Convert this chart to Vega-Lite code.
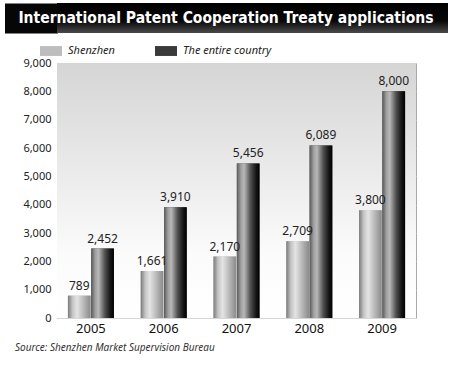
{
  "$schema": "https://vega.github.io/schema/vega-lite/v6.json",
  "background": "white",
  "padding": {"left": 3, "top": 3, "right": 3, "bottom": 3},
  "spacing": 6,
  "resolve": {"legend": {"color": "independent"}},
  "config": {"font": "Noto Sans", "view": {"stroke": null}},
  "vconcat": [
    {
      "width": 391,
      "height": 30,
      "data": {"values": [{"t": "International Patent Cooperation Treaty applications"}]},
      "layer": [
        {
          "mark": {"type": "rect", "fill": {"gradient": "linear", "x1": 0, "y1": 0, "x2": 0, "y2": 1, "stops": [{"offset": 0, "color": "#000000"}, {"offset": 0.6, "color": "#080808"}, {"offset": 1, "color": "#4a4a4a"}]}},
          "encoding": {}
        },
        {
          "mark": {"type": "rule", "opacity": 0},
          "encoding": {"y": {"datum": 0, "type": "quantitative", "scale": {"domain": [0, 1]}, "axis": {"title": null, "labels": false, "ticks": false, "grid": false, "domain": true, "domainColor": "#060606", "domainWidth": 53, "offset": 26, "minExtent": 0}}}
        },
        {
          "mark": {"type": "text", "font": "DejaVu Sans Condensed", "fontWeight": "bold", "fontSize": 15.5, "color": "white", "baseline": "middle", "align": "center", "dx": -26.5},
          "encoding": {"text": {"field": "t"}}
        }
      ]
    },
    {
      "width": 359,
      "height": 255,
      "view": {"stroke": "#a8a8a8"},
      "title": {"text": "Source:  Shenzhen Market Supervision Bureau", "orient": "bottom", "anchor": "start", "fontSize": 10, "fontStyle": "italic", "fontWeight": "normal", "color": "#333333", "offset": 8, "dx": 11},
      "data": {"values": [
        {"year": "2005", "series": "Shenzhen", "value": 789},
        {"year": "2005", "series": "The entire country", "value": 2452},
        {"year": "2006", "series": "Shenzhen", "value": 1661},
        {"year": "2006", "series": "The entire country", "value": 3910},
        {"year": "2007", "series": "Shenzhen", "value": 2170},
        {"year": "2007", "series": "The entire country", "value": 5456},
        {"year": "2008", "series": "Shenzhen", "value": 2709},
        {"year": "2008", "series": "The entire country", "value": 6089},
        {"year": "2009", "series": "Shenzhen", "value": 3800},
        {"year": "2009", "series": "The entire country", "value": 8000}
      ]},
      "encoding": {
        "x": {"field": "year", "type": "nominal", "scale": {"paddingInner": 0.368, "paddingOuter": 0.15}, "axis": {"title": null, "labelAngle": 0, "labelFontSize": 13, "labelColor": "#111111", "ticks": false, "domain": false, "labelPadding": 4}},
        "xOffset": {"field": "series", "type": "nominal", "scale": {"domain": ["Shenzhen", "The entire country"], "paddingInner": 0.03}},
        "y": {"field": "value", "type": "quantitative", "scale": {"domain": [0, 9000]}, "axis": {"title": null, "values": [0, 1000, 2000, 3000, 4000, 5000, 6000, 7000, 8000, 9000], "format": ",.0f", "ticks": false, "domain": false, "gridColor": "#d6d6d6", "labelFontSize": 11, "labelPadding": 6, "minExtent": 53, "labelColor": "#222222"}}
      },
      "layer": [
        {
          "data": {"values": [{}]},
          "mark": {"type": "rect", "fill": {"gradient": "linear", "x1": 0, "y1": 0, "x2": 0, "y2": 1, "stops": [{"offset": 0, "color": "#d5d5d5"}, {"offset": 0.75, "color": "#fbfbfb"}, {"offset": 1, "color": "#ffffff"}]}},
          "encoding": {"x": null, "xOffset": null, "y": null}
        },
        {
          "mark": {"type": "bar"},
          "encoding": {
            "color": {"field": "series", "type": "nominal", "scale": {"domain": ["Shenzhen", "The entire country"], "range": ["#bdbdbd", "#3a3a3a"]},
              "legend": {"orient": "none", "legendX": -17, "legendY": -23, "padding": 0, "direction": "horizontal", "title": null, "symbolType": "M-1,-0.45H1V0.45H-1Z", "symbolSize": 484, "labelFontStyle": "italic", "labelFontSize": 11, "labelColor": "#222222", "columnPadding": 40, "labelOffset": 6, "symbolStrokeWidth": 0}
            }
          }
        },
        {
          "mark": {"type": "bar"},
          "encoding": {
            "fill": {"condition": {"test": "datum.series === 'Shenzhen'", "value": {"gradient": "linear", "x1": 0, "y1": 0, "x2": 1, "y2": 0, "stops": [{"offset": 0, "color": "#7a7a7a"}, {"offset": 0.2, "color": "#c4c4c4"}, {"offset": 0.4, "color": "#e4e4e4"}, {"offset": 0.75, "color": "#b0b0b0"}, {"offset": 1, "color": "#8a8a8a"}]}}, "value": {"gradient": "linear", "x1": 0, "y1": 0, "x2": 1, "y2": 0, "stops": [{"offset": 0, "color": "#5a5a5a"}, {"offset": 0.18, "color": "#a0a0a0"}, {"offset": 0.32, "color": "#b8b8b8"}, {"offset": 0.6, "color": "#505050"}, {"offset": 0.85, "color": "#151515"}, {"offset": 1, "color": "#000000"}]}}
          }
        },
        {
          "mark": {"type": "text", "baseline": "bottom", "dy": -3, "fontSize": 12, "color": "#222222"},
          "encoding": {"text": {"field": "value", "type": "quantitative", "format": ","}}
        }
      ]
    }
  ]
}
